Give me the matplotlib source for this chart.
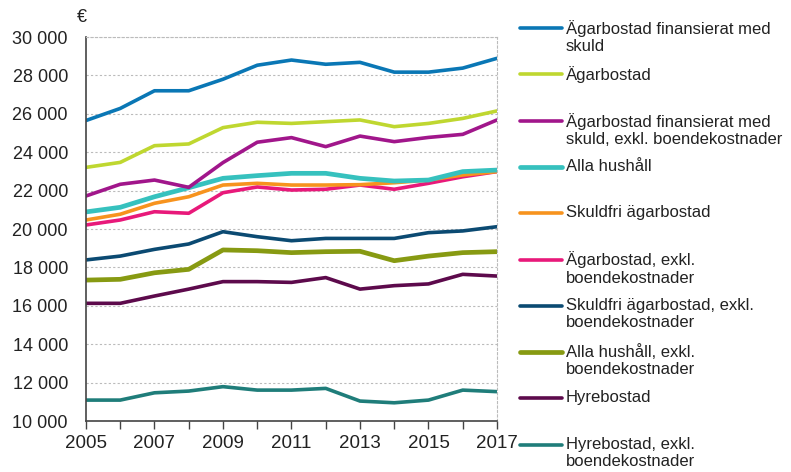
import matplotlib
matplotlib.use("Agg")
import matplotlib.pyplot as plt
from matplotlib.lines import Line2D
from matplotlib.ticker import FuncFormatter, MultipleLocator

plt.rcParams['font.family'] = ['Liberation Sans', 'DejaVu Sans']

years = list(range(2005, 2018))

# Disponibel inkomst per konsumtionsenhet, euro
agar_skuld = [25650, 26280, 27200, 27200, 27800, 28530, 28800, 28580, 28680, 28170, 28170, 28380, 28890]
agar = [23210, 23470, 24340, 24430, 25280, 25560, 25500, 25590, 25680, 25330, 25500, 25760, 26150]
agar_skuld_exkl = [21720, 22330, 22550, 22170, 23460, 24520, 24760, 24290, 24840, 24550, 24770, 24930, 25680]
alla = [20890, 21130, 21680, 22150, 22640, 22780, 22900, 22900, 22640, 22500, 22550, 22990, 23070]
skuldfri = [20470, 20770, 21340, 21680, 22290, 22380, 22290, 22290, 22310, 22410, 22550, 22810, 22990]
agar_exkl = [20210, 20470, 20900, 20820, 21890, 22190, 22030, 22070, 22290, 22070, 22380, 22720, 22990]
skuldfri_exkl = [18390, 18590, 18940, 19220, 19860, 19600, 19390, 19510, 19510, 19510, 19810, 19900, 20120]
alla_exkl = [17340, 17380, 17720, 17900, 18910, 18870, 18770, 18820, 18840, 18350, 18590, 18770, 18820]
hyres = [16130, 16130, 16510, 16870, 17260, 17260, 17220, 17470, 16870, 17050, 17140, 17640, 17550]
hyres_exkl = [11090, 11090, 11470, 11560, 11790, 11610, 11610, 11700, 11040, 10950, 11090, 11610, 11530]

etiketter = [
    "Ägarbostad finansierat med\nskuld",
    "Ägarbostad",
    "Ägarbostad finansierat med\nskuld, exkl. boendekostnader",
    "Alla hushåll",
    "Skuldfri ägarbostad",
    "Ägarbostad, exkl.\nboendekostnader",
    "Skuldfri ägarbostad, exkl.\nboendekostnader",
    "Alla hushåll, exkl.\nboendekostnader",
    "Hyrebostad",
    "Hyrebostad, exkl.\nboendekostnader",
]
serier = [agar_skuld, agar, agar_skuld_exkl, alla, skuldfri, agar_exkl,
          skuldfri_exkl, alla_exkl, hyres, hyres_exkl]
farger = ["#0a77b5", "#bfd730", "#a1168b", "#36c1be", "#f7931e", "#e8197a",
          "#0b4a72", "#879a12", "#5d0a4c", "#1f7d7a"]
bredder = [2.6, 2.6, 2.6, 3.4, 2.6, 2.6, 2.6, 3.4, 2.6, 2.6]

fig = plt.figure(figsize=(7.91, 4.72), dpi=100)
ax = fig.add_axes([0.1087, 0.108, 0.5196, 0.8136])

# ritar i omvänd ordning så att de första serierna hamnar överst
for i in reversed(range(len(serier))):
    ax.plot(years, serier[i], color=farger[i], lw=bredder[i], solid_capstyle='round')

ax.set_xlim(2005, 2017)
ax.set_ylim(10000, 30000)
ax.yaxis.set_major_locator(MultipleLocator(2000))
ax.yaxis.set_major_formatter(FuncFormatter(lambda v, p: f"{int(v):,}".replace(",", " ")))
ax.set_xticks(years)
ax.set_xticklabels([str(y) if (y - 2005) % 2 == 0 else "" for y in years])
ax.tick_params(axis='y', length=0, pad=13, labelsize=13, colors='#222222')
ax.tick_params(axis='x', direction='out', length=6, width=1, color='#444444',
               pad=4, labelsize=13.5, labelcolor='#222222')

ax.grid(axis='y', color='#bbbbbb', linestyle=(0, (2, 2)), lw=0.8)
ax.set_axisbelow(True)
for s in ['top', 'right']:
    ax.spines[s].set_color('#bbbbbb')
    ax.spines[s].set_linestyle((0, (2, 2)))
    ax.spines[s].set_linewidth(0.8)
for s in ['left', 'bottom']:
    ax.spines[s].set_color('#444444')
    ax.spines[s].set_linewidth(1.2)

fig.text(82 / 791, 1 - 17 / 472, "€", fontsize=13, color='#222222', ha='center', va='center')

# förklaring till höger
topp = 1 - 28 / 472
steg = 46.3 / 472
for i, etikett in enumerate(etiketter):
    y = topp - i * steg
    fig.add_artist(Line2D([520 / 791, 562 / 791], [y, y], color=farger[i],
                          lw=bredder[i], solid_capstyle='round'))
    fig.text(566 / 791, y + 8 / 472, etikett, fontsize=12, color='#222222',
             ha='left', va='top', linespacing=1.18)

fig.savefig("out.png", dpi=100)
